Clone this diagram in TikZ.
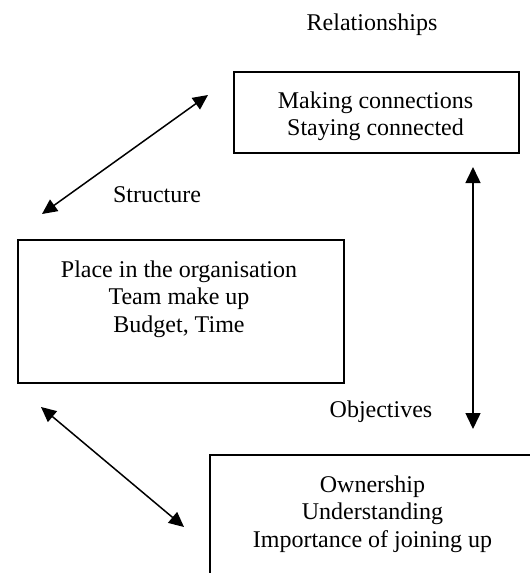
\documentclass[tikz,border=0pt]{standalone}
\usepackage{fontspec}
\setmainfont{Liberation Serif}
\usetikzlibrary{arrows.meta}

\begin{document}
\begin{tikzpicture}[x=0.5pt, y=-0.5pt,
  every node/.style={font=\fontsize{12}{13.8}\selectfont, inner sep=0pt},
  framebox/.style={draw, line width=1pt, rectangle, anchor=north west},
  boxtext/.style={align=center, anchor=base},
  label/.style={anchor=base},
  link/.style={line width=0.75pt, {Triangle[length=7.5pt,width=7pt]}-{Triangle[length=7.5pt,width=7pt]}}]

  \clip (0,0) rectangle (530,573);
  \fill[white] (0,0) rectangle (530,573);

  % frames
  \node[framebox, minimum width=142.5pt, minimum height=40.5pt] (rel) at (233,71) {};
  \node[framebox, minimum width=163pt, minimum height=71.5pt] (struct) at (17,239) {};
  \node[framebox, minimum width=163.5pt, minimum height=73pt] (obj) at (209,454) {};

  % frame contents (base anchor sits on the last line)
  \begin{scope}
    \clip (233,71) rectangle (518,140);
    \node[boxtext] (reltext) at (375.5,135.6) {Making connections\\Staying connected};
  \end{scope}
  \node[boxtext] (structtext) at (179,332.2) {Place in the organisation\\Team make up\\Budget, Time};
  \node[boxtext] (objtext) at (372.5,547.2) {Ownership\\Understanding\\Importance of joining up};

  % headings
  \node[label] (relhead) at (372,31) {Relationships};
  \node[label] (structhead) at (157,202) {Structure};
  \node[label] (objhead) at (381,417) {Objectives};

  % arrow ends
  \coordinate (a1s) at (42,214);
  \coordinate (a1e) at (208,95);
  \coordinate (a2s) at (41,407);
  \coordinate (a2e) at (184,527);
  \coordinate (a3s) at (473,167);
  \coordinate (a3e) at (473,429);

  \draw[link] (a1s) -- (a1e);
  \draw[link] (a2s) -- (a2e);
  \draw[link, {Triangle[length=8pt,width=7.5pt]}-{Triangle[length=8pt,width=7.5pt]}] (a3s) -- (a3e);
\end{tikzpicture}
\end{document}
